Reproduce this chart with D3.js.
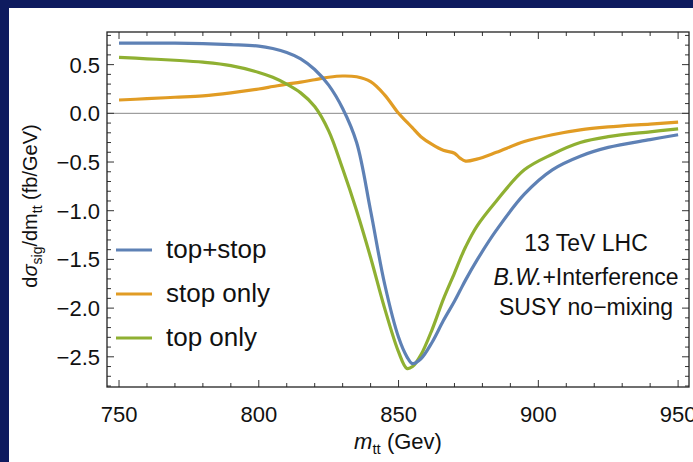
<!DOCTYPE html>
<html>
<head>
<meta charset="utf-8">
<script src="https://cdn.jsdelivr.net/npm/d3@7"></script>
<style>
  body { margin: 0; background: #0e1b5f; }
  text { font-family: "Liberation Sans", Arial, sans-serif; fill: #111; }
</style>
</head>
<body>
<svg id="chart" width="693" height="462"></svg>
<script>
// m_tt grid (GeV)
var mtt = [750, 760, 770, 780, 790, 800, 805, 810, 815, 820, 825, 830, 835, 840, 845, 850,
  853, 855, 858, 862, 866, 870, 872, 874, 878, 885, 895, 905, 915, 925, 940, 950];

// d sigma / d m_tt (fb/GeV)
var topStop = [0.72, 0.72, 0.72, 0.715, 0.705, 0.69, 0.665, 0.625, 0.56, 0.45, 0.29, 0.05, -0.30, -1.0, -1.75, -2.30,
  -2.50, -2.57, -2.52, -2.35, -2.13, -1.93, -1.82, -1.71, -1.51, -1.20, -0.83, -0.58, -0.44, -0.35, -0.27, -0.22];
var stopOnly = [0.137, 0.15, 0.165, 0.18, 0.21, 0.25, 0.275, 0.30, 0.32, 0.345, 0.37, 0.383, 0.375, 0.325, 0.19, 0.0,
  -0.09, -0.15, -0.24, -0.32, -0.38, -0.41, -0.46, -0.49, -0.47, -0.40, -0.29, -0.22, -0.17, -0.14, -0.11, -0.09];
var topOnly = [0.575, 0.56, 0.545, 0.525, 0.49, 0.42, 0.37, 0.30, 0.21, 0.07, -0.18, -0.57, -1.0, -1.48, -2.0, -2.45,
  -2.62, -2.60, -2.48, -2.22, -1.91, -1.64, -1.50, -1.37, -1.16, -0.90, -0.58, -0.42, -0.30, -0.24, -0.19, -0.16];

var seriesNames = ["top+stop", "stop only", "top only"];
var seriesColors = ["#5e81b5", "#e19c24", "#8fb032"];
var seriesValues = [topStop, stopOnly, topOnly];

var xTicks = [750, 800, 850, 900, 950];
var yTicks = [0.5, 0.0, -0.5, -1.0, -1.5, -2.0, -2.5];
var notes = ["13 TeV LHC", "B.W.+Interference", "SUSY no\u2212mixing"];

var svg = d3.select("#chart");

// white slide panel
svg.append("rect")
  .attr("x", 9).attr("y", 8)
  .attr("width", 684).attr("height", 454)
  .attr("fill", "#fff");

var plotL = 107, plotR = 689, plotT = 32, plotB = 387;

var x = d3.scaleLinear().domain([745.7, 953.9]).range([plotL, plotR]);
var y = d3.scaleLinear().domain([-2.81, 0.835]).range([plotB, plotT]);

// zero line
svg.append("line")
  .attr("x1", plotL).attr("x2", plotR)
  .attr("y1", y(0)).attr("y2", y(0))
  .attr("stroke", "#888").attr("stroke-width", 1);

// curves
var line = d3.line()
  .x(function(d) { return x(d[0]); })
  .y(function(d) { return y(d[1]); })
  .curve(d3.curveCatmullRom.alpha(0.5));

var order = [1, 2, 0];
order.forEach(function(i) {
  var pts = mtt.map(function(m, j) { return [m, seriesValues[i][j]]; });
  svg.append("path")
    .datum(pts)
    .attr("d", line)
    .attr("fill", "none")
    .attr("stroke", seriesColors[i])
    .attr("stroke-width", 3.2)
    .attr("stroke-linejoin", "round");
});

// frame ticks (inward, all four sides)
var xMinor = d3.range(750, 951, 10);
var yMinor = d3.range(-28, 9, 1).map(function(v) { return v / 10; });

function tickLen(v, step) {
  return Math.abs(v / step - Math.round(v / step)) < 1e-6 ? 7 : 4;
}

var g = svg.append("g").attr("stroke", "#333").attr("stroke-width", 1);
xMinor.forEach(function(v) {
  var L = tickLen(v, 50);
  g.append("line").attr("x1", x(v)).attr("x2", x(v)).attr("y1", plotB).attr("y2", plotB - L);
  g.append("line").attr("x1", x(v)).attr("x2", x(v)).attr("y1", plotT).attr("y2", plotT + L);
});
yMinor.forEach(function(v) {
  var L = tickLen(v, 0.5);
  g.append("line").attr("y1", y(v)).attr("y2", y(v)).attr("x1", plotL).attr("x2", plotL + L);
  g.append("line").attr("y1", y(v)).attr("y2", y(v)).attr("x1", plotR).attr("x2", plotR - L);
});

svg.append("rect")
  .attr("x", plotL).attr("y", plotT)
  .attr("width", plotR - plotL).attr("height", plotB - plotT)
  .attr("fill", "none").attr("stroke", "#222").attr("stroke-width", 1.3);

// tick labels
svg.selectAll(".xl").data(xTicks).enter().append("text")
  .attr("x", function(d) { return x(d); })
  .attr("y", 422)
  .attr("text-anchor", "middle")
  .style("font-size", "22px")
  .text(function(d) { return d; });

svg.selectAll(".yl").data(yTicks).enter().append("text")
  .attr("x", 100)
  .attr("y", function(d) { return y(d) + 8; })
  .attr("text-anchor", "end")
  .style("font-size", "22px")
  .text(function(d) { return d3.format(".1f")(d).replace("-", "\u2212"); });

// axis titles
var xt = svg.append("text")
  .attr("x", 398).attr("y", 449)
  .attr("text-anchor", "middle")
  .style("font-size", "22px");
xt.append("tspan").style("font-style", "italic").text("m");
xt.append("tspan").attr("dy", 5).style("font-size", "15px").text("tt");
xt.append("tspan").attr("dy", -5).text(" (Gev)");

var yt = svg.append("text")
  .attr("transform", "translate(37,206) rotate(-90)")
  .attr("text-anchor", "middle")
  .style("font-size", "20px");
yt.append("tspan").text("d");
yt.append("tspan").style("font-style", "italic").text("\u03c3");
yt.append("tspan").attr("dy", 5).style("font-size", "14px").text("sig");
yt.append("tspan").attr("dy", -5).text("/dm");
yt.append("tspan").attr("dy", 5).style("font-size", "14px").text("tt");
yt.append("tspan").attr("dy", -5).text(" (fb/GeV)");

// legend
var legY = [250, 294, 338];
seriesNames.forEach(function(name, i) {
  svg.append("line")
    .attr("x1", 116).attr("x2", 152)
    .attr("y1", legY[i]).attr("y2", legY[i])
    .attr("stroke", seriesColors[i]).attr("stroke-width", 3);
  svg.append("text")
    .attr("x", 166).attr("y", legY[i] + 8)
    .style("font-size", "26px")
    .text(name);
});

// annotation
var noteY = [251, 285, 315];
notes.forEach(function(t, i) {
  var tx = svg.append("text")
    .attr("x", 586).attr("y", noteY[i])
    .attr("text-anchor", "middle")
    .style("font-size", "23px");
  if (i == 1) {
    tx.append("tspan").style("font-style", "italic").text("B.W.");
    tx.append("tspan").text("+Interference");
  } else {
    tx.text(t);
  }
});
</script>
</body>
</html>
